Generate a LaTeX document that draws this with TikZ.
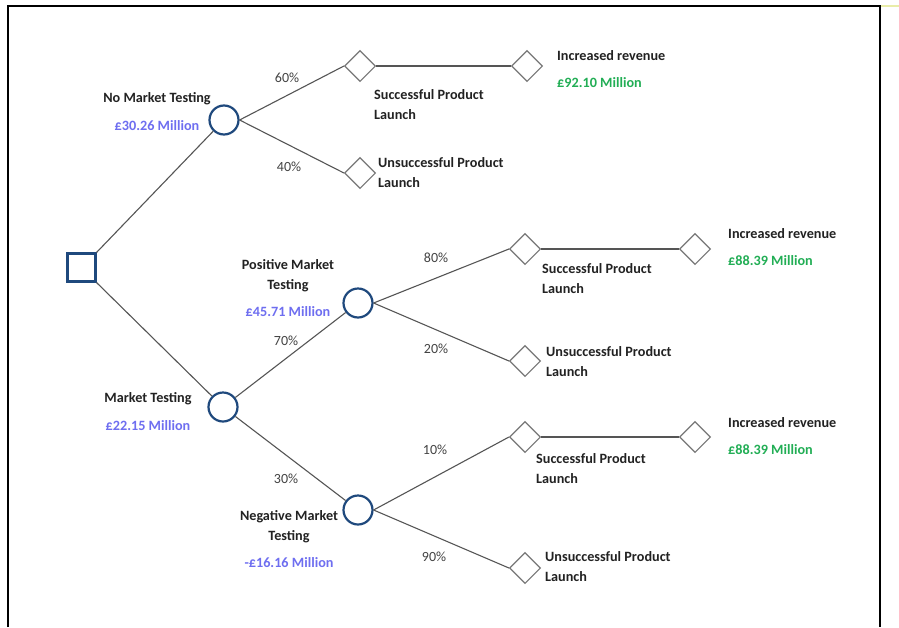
\documentclass[tikz,border=0pt]{standalone}
\usepackage{fontspec}
\setmainfont{Carlito}
\usetikzlibrary{shapes.geometric}
\definecolor{navy}{HTML}{1F497D}
\definecolor{edgegray}{HTML}{555555}
\definecolor{diagray}{HTML}{777777}
\definecolor{valblue}{HTML}{6E6EF0}
\definecolor{valgreen}{HTML}{22AE55}
\definecolor{txt}{HTML}{222222}
\definecolor{paleyellow}{HTML}{E9EDA8}
\begin{document}
\begin{tikzpicture}[x=1pt,y=-1pt,
  decision/.style={draw=navy,line width=2.2pt,minimum size=28pt,inner sep=0pt,rectangle},
  chance/.style={draw=navy,line width=2.2pt,circle,minimum size=29pt,inner sep=0pt},
  outcome/.style={draw=diagray,line width=1.1pt,diamond,minimum size=31pt,inner sep=0pt},
  edge/.style={draw=edgegray,line width=1.1pt},
  lbl/.style={font=\fontsize{14.2}{20}\selectfont\bfseries,text=txt,inner sep=0pt,yshift=-1pt},
  pct/.style={font=\fontsize{14}{15}\selectfont,text=txt!85,inner sep=0pt,yshift=-1pt},
  val/.style={font=\fontsize{14.2}{15}\selectfont\bfseries,inner sep=0pt,yshift=-1pt},
]
\useasboundingbox (0,0) rectangle (899,627);
\fill[white] (0,0) rectangle (899,627);
% frame
\draw[line width=2pt,black] (8,627) -- (8,6) -- (880,6) -- (880,627);
\draw[line width=1.2pt,paleyellow] (881,6) -- (899,6);

% nodes
\node[decision] (root) at (81.5,267.5) {};
\node[chance] (nmt) at (224,120) {};
\node[chance] (mt) at (223,407) {};
\node[chance] (pos) at (358,303) {};
\node[chance] (neg) at (358,510) {};

\node[outcome] (s1) at (360,66) {};
\node[outcome] (r1) at (527,66) {};
\node[outcome] (u1) at (360,173) {};
\node[outcome] (s2) at (525,249) {};
\node[outcome] (r2) at (695,249) {};
\node[outcome] (u2) at (525,361) {};
\node[outcome] (s3) at (525,437) {};
\node[outcome] (r3) at (695,437) {};
\node[outcome] (u3) at (525,568) {};

% connectors
\draw[edge] (root.north east) -- (nmt);
\draw[edge] (root.south east) -- (mt);
\draw[edge] (nmt.east) -- (s1.west);
\draw[edge] (nmt.east) -- (u1.west);
\draw[edge] (s1.east) -- (r1.west);
\draw[edge] (mt) -- (pos);
\draw[edge] (mt) -- (neg);
\draw[edge] (pos.east) -- (s2.west);
\draw[edge] (pos.east) -- (u2.west);
\draw[edge] (s2.east) -- (r2.west);
\draw[edge] (neg.east) -- (s3.west);
\draw[edge] (neg.east) -- (u3.west);
\draw[edge] (s3.east) -- (r3.west);

% decision branch labels
\node[lbl] (lnmt) at (157,98) {No Market Testing};
\node[val,text=valblue] (vnmt) at (157,125) {£30.26 Million};
\node[lbl] (lmt) at (148,398) {Market Testing};
\node[val,text=valblue] (vmt) at (148,425) {£22.15 Million};

% chance branch labels
\node[lbl,align=center] (lpos) at (288,275) {Positive Market\\Testing};
\node[val,text=valblue] (vpos) at (288,311) {£45.71 Million};
\node[lbl,align=center] (lneg) at (289,526) {Negative Market\\Testing};
\node[val,text=valblue] (vneg) at (289,562) {-£16.16 Million};

% probabilities
\node[pct] (p60) at (287,77) {60\%};
\node[pct] (p40) at (289,166) {40\%};
\node[pct] (p70) at (286,340) {70\%};
\node[pct] (p30) at (286,478) {30\%};
\node[pct] (p80) at (436,257) {80\%};
\node[pct] (p20) at (436,348) {20\%};
\node[pct] (p10) at (435,449) {10\%};
\node[pct] (p90) at (434,556) {90\%};

% outcome labels
\node[lbl,align=left,anchor=west] (ls1) at (374,104) {Successful Product\\Launch};
\node[lbl,align=left,anchor=west] (lu1) at (378,171.5) {Unsuccessful Product\\Launch};
\node[lbl,align=left,anchor=west] (ls2) at (542,278) {Successful Product\\Launch};
\node[lbl,align=left,anchor=west] (lu2) at (546,361) {Unsuccessful Product\\Launch};
\node[lbl,align=left,anchor=west] (ls3) at (536,468) {Successful Product\\Launch};
\node[lbl,align=left,anchor=west] (lu3) at (545,566) {Unsuccessful Product\\Launch};

% revenue labels
\node[lbl,anchor=west] (lr1) at (557,55) {Increased revenue};
\node[val,text=valgreen,anchor=west] (vr1) at (557,82) {£92.10 Million};
\node[lbl,anchor=west] (lr2) at (728,233) {Increased revenue};
\node[val,text=valgreen,anchor=west] (vr2) at (728,260) {£88.39 Million};
\node[lbl,anchor=west] (lr3) at (728,422) {Increased revenue};
\node[val,text=valgreen,anchor=west] (vr3) at (728,449) {£88.39 Million};
\end{tikzpicture}
\end{document}
